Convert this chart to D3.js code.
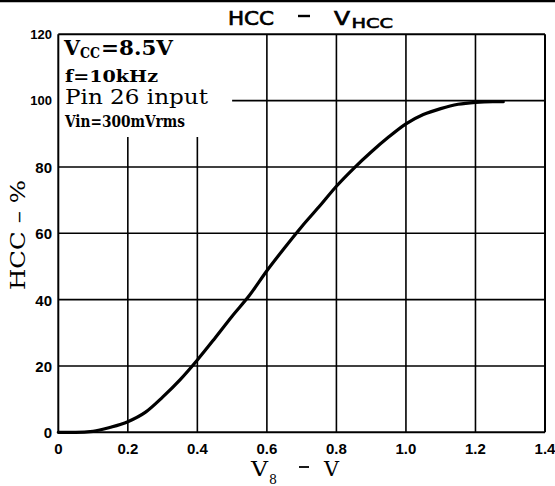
<!DOCTYPE html>
<html><head><meta charset="utf-8">
<script src="https://cdn.jsdelivr.net/npm/d3@7"></script>
<style>body{margin:0;background:#fff}svg{display:block}</style>
</head><body>
<svg id="c" width="555" height="486"></svg>
<script>
const v8 = [0, 0.05, 0.1, 0.15, 0.2, 0.25, 0.3, 0.35, 0.4, 0.45, 0.5, 0.55, 0.6, 0.65, 0.7, 0.75, 0.8, 0.85, 0.9, 0.95, 1.0, 1.05, 1.1, 1.15, 1.2, 1.25, 1.28];
const hcc = [0, 0, 0.3, 1.5, 3.2, 6, 10.6, 15.8, 21.8, 28.3, 35, 41.3, 48.7, 55.5, 62, 68, 74.2, 79.6, 84.5, 89, 93, 95.8, 97.6, 98.9, 99.5, 99.7, 99.7];
const xTicks = [0, 0.2, 0.4, 0.6, 0.8, 1.0, 1.2, 1.4];
const xTickLabels = ["0", "0.2", "0.4", "0.6", "0.8", "1.0", "1.2", "1.4"];
const yTicks = [0, 20, 40, 60, 80, 100, 120];
const yTickLabels = ["0", "20", "40", "60", "80", "100", "120"];
const noteLines = ["=8.5V", "f=10kHz", "Pin 26 input", "Vin=300mVrms"];
const noteBox = {x: 0.5, y: 89}; // data-space corner of the blank note area

const svg = d3.select("#c");
const x = d3.scaleLinear().domain([0, 1.4]).range([58.3, 545]);
const y = d3.scaleLinear().domain([0, 120]).range([432.3, 34.3]);

// scan border at top
svg.append("line").attr("x1", 0).attr("x2", 555).attr("y1", 1).attr("y2", 1)
  .attr("stroke", "#000").attr("stroke-width", 2.5);

const g = svg.append("g");
xTicks.forEach(t => {
  const top = (t > 0 && t < noteBox.x) ? noteBox.y : 120;
  g.append("line").attr("x1", x(t)).attr("x2", x(t)).attr("y1", y(0)).attr("y2", y(top))
    .attr("stroke", "#000").attr("stroke-width", (t === 0 || t === 1.4) ? 2 : 1.6);
});
yTicks.forEach(t => {
  const start = (t > noteBox.y && t < 120) ? noteBox.x : 0;
  g.append("line").attr("x1", x(start)).attr("x2", x(1.4)).attr("y1", y(t)).attr("y2", y(t))
    .attr("stroke", "#000").attr("stroke-width", (t === 0 || t === 120) ? 2 : 1.6);
});

const tf = "'Liberation Sans', Arial, sans-serif";
g.selectAll(".yl").data(yTicks).enter().append("text")
  .attr("x", 52).attr("y", d => y(d) + (d >= 100 ? 4.5 : 6))
  .attr("text-anchor", "end").attr("font-family", tf).attr("font-weight", "bold")
  .attr("font-size", d => d >= 100 ? 13 : 15).text((d, i) => yTickLabels[i]);
g.selectAll(".xl").data(xTicks).enter().append("text")
  .attr("x", d => x(d)).attr("y", 454)
  .attr("text-anchor", "middle").attr("font-family", tf).attr("font-weight", "bold")
  .attr("font-size", 15).text((d, i) => xTickLabels[i]);

const line = d3.line().x(d => x(d[0])).y(d => y(d[1])).curve(d3.curveMonotoneX);
g.append("path").datum(v8.map((v, i) => [v, hcc[i]])).attr("d", line)
  .attr("fill", "none").attr("stroke", "#000").attr("stroke-width", 3.2)
  .attr("stroke-linecap", "round");

function fitText(txt, x0, x1, yb, size, fam, weight) {
  return svg.append("text").attr("x", x0).attr("y", yb).attr("font-family", fam)
    .attr("font-size", size).attr("font-weight", weight || "normal")
    .attr("textLength", x1 - x0).attr("lengthAdjust", "spacingAndGlyphs").text(txt);
}
// title
const ttf = "'DejaVu Sans', sans-serif";
fitText("HCC", 228, 274, 25, 19.5, ttf).attr("stroke", "#000").attr("stroke-width", 0.7);
svg.append("line").attr("x1", 298).attr("x2", 310).attr("y1", 16).attr("y2", 16).attr("stroke", "#000").attr("stroke-width", 2.4);
fitText("V", 334, 350, 25, 19.5, ttf).attr("stroke", "#000").attr("stroke-width", 0.7);
fitText("HCC", 351.5, 393, 28, 14, ttf).attr("stroke", "#000").attr("stroke-width", 0.6);

// notes
const sf = "'DejaVu Serif', 'Liberation Serif', serif";
fitText("V", 64, 80, 55, 21, sf, "bold");
fitText("CC", 80, 100, 58, 14, sf, "bold");
fitText(noteLines[0], 101, 173, 55, 20, sf, "bold");
fitText(noteLines[1], 65, 158, 82, 17, sf, "bold");
fitText(noteLines[2], 65, 208, 104, 21, sf, "normal");
fitText(noteLines[3], 65, 185, 126.5, 17, sf, "bold");

// x axis title
fitText("V", 251, 268, 476, 20, sf);
fitText("8", 269, 277, 484, 13, sf);
svg.append("line").attr("x1", 299).attr("x2", 309).attr("y1", 467).attr("y2", 467).attr("stroke", "#000").attr("stroke-width", 1.8);
fitText("V", 324, 339, 476, 20, sf);

// y axis title
svg.append("text").attr("transform", "translate(25,235) rotate(-90)").attr("text-anchor", "middle")
  .attr("font-family", sf).attr("font-size", 21)
  .attr("textLength", 110).attr("lengthAdjust", "spacingAndGlyphs").text("HCC – %");
</script>
</body></html>
